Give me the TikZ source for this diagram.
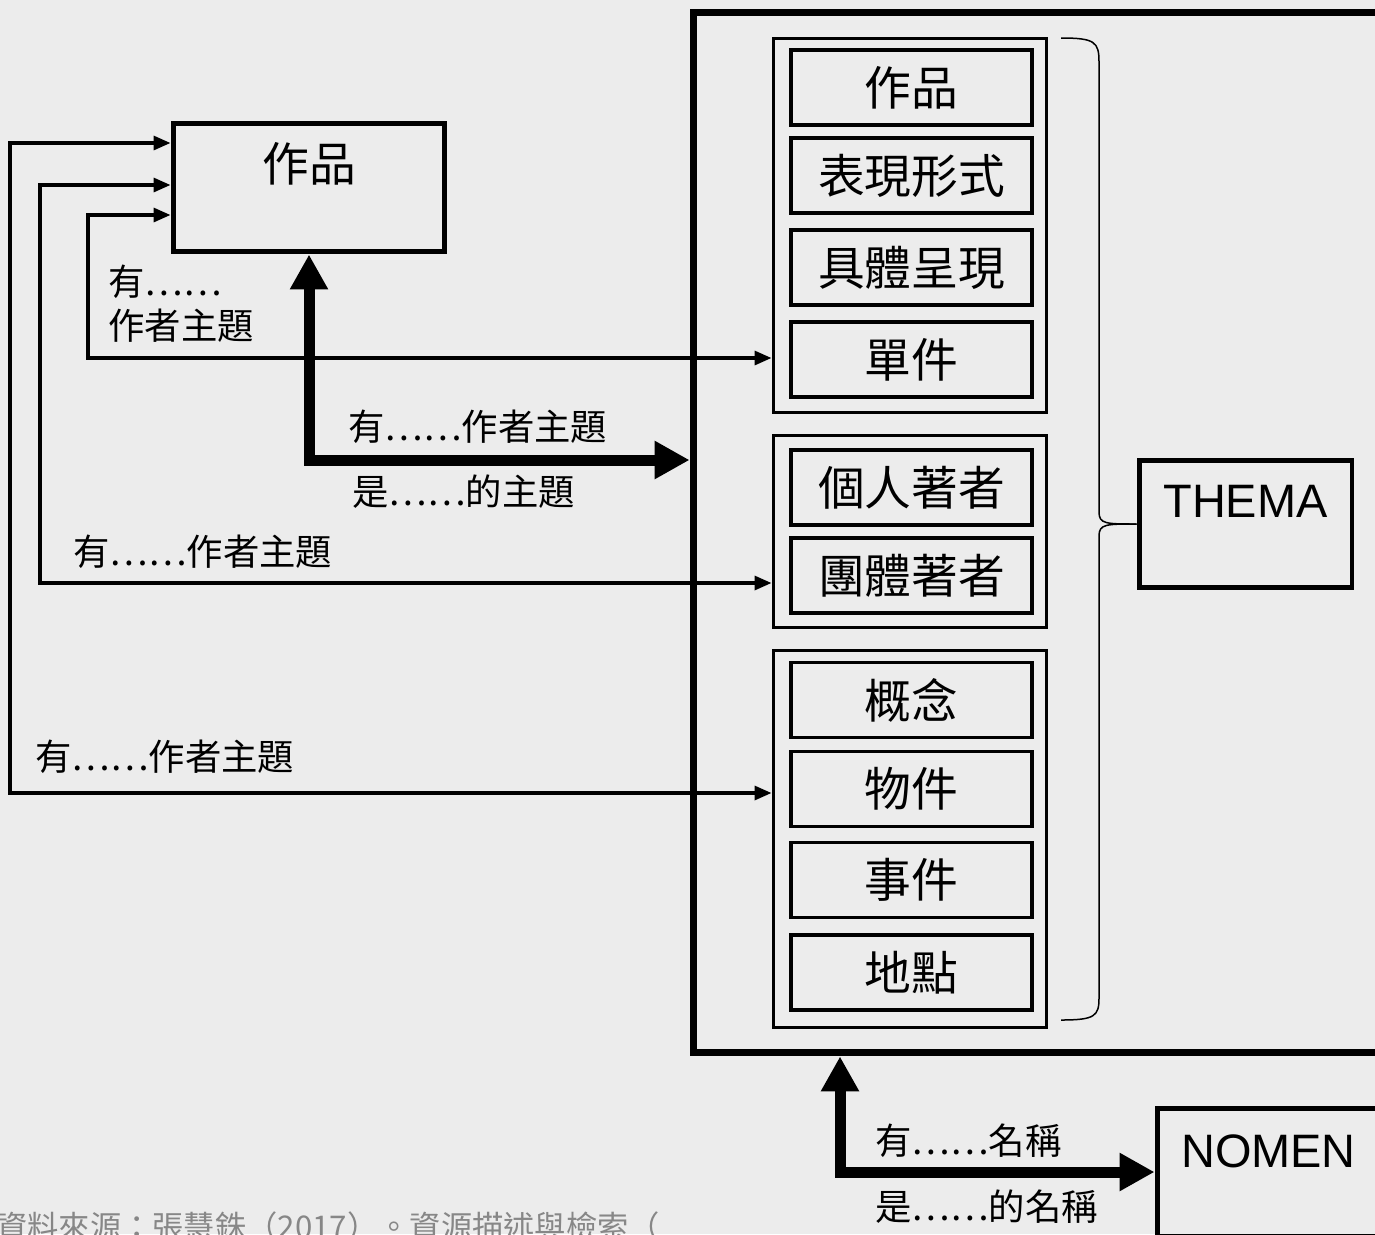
\documentclass[tikz,border=0pt]{standalone}
\usepackage{fontspec}
\setmainfont{Noto Sans CJK TC}
\setsansfont{Liberation Sans}
\usetikzlibrary{arrows.meta}
\definecolor{bggray}{RGB}{236,236,236}
\definecolor{capgray}{RGB}{135,135,135}

\begin{document}
\begin{tikzpicture}[
  x=0.02cm, y=-0.02cm,
  boxfont/.style={font=\fontsize{26.6pt}{30pt}\selectfont},
  entbox/.style={draw,boxfont,line width=0.065cm,minimum width=4.82cm,
    minimum height=1.5cm,inner sep=0pt},
  groupbox/.style={draw,line width=0.06cm,minimum width=5.48cm,inner sep=0pt},
  heavybox/.style={draw,line width=0.1cm,inner sep=0pt},
  rel/.style={inner sep=0pt,font=\fontsize{20.7pt}{25pt}\selectfont},
  thinarr/.style={line width=0.065cm,
    {Triangle[length=0.34cm,width=0.28cm]}-{Triangle[length=0.34cm,width=0.28cm]}},
  heavyarr/.style={line width=0.22cm,
    {Triangle[length=0.7cm,width=0.72cm]}-{Triangle[length=0.7cm,width=0.72cm]}}
]
  \path[fill=bggray,use as bounding box] (0,0) rectangle (1375,1234);

  % the THEMA block: three groups of entities inside one frame
  \node[draw,line width=0.14cm,minimum width=13.74cm,minimum height=20.82cm]
    (big) at (1036.5,532.5) {};
  \node[groupbox,minimum height=7.5cm] (g1) at (910,225.5) {};
  \node[groupbox,minimum height=3.86cm] (g2) at (910,531.5) {};
  \node[groupbox,minimum height=7.56cm] (g3) at (910,839) {};
  \foreach \yy/\nm/\txt in {87.5/fwork/作品, 175.5/fexpr/表現形式,
      267.5/fmani/具體呈現, 359.5/fitem/單件, 487.5/fpers/個人著者,
      575.5/fcorp/團體著者, 700/fconc/概念, 789/fobj/物件,
      880/fevent/事件, 972.5/fplace/地點}
    \node[entbox] (\nm) at (911.5,\yy) {\txt};

  \node[heavybox,font=\sffamily\fontsize{26.7pt}{30pt}\selectfont,
    minimum width=4.26cm,text height=1.14cm,text depth=1.42cm]
    (thema) at (1245.5,524) {THEMA};
  \node[heavybox,font=\sffamily\fontsize{26.7pt}{30pt}\selectfont,
    minimum width=4.46cm,text height=1.18cm,text depth=1.38cm]
    (nomen) at (1268.5,1172) {NOMEN};
  \node[heavybox,boxfont,minimum width=5.44cm,text height=1.16cm,
    text depth=1.42cm] (wk) at (309,187.5) {作品};

  % brace from the groups to THEMA
  \draw[line width=0.03cm]
    (1061,38) .. controls (1095,38) and (1099,42) .. (1099,62)
    -- (1099,512) .. controls (1099,524) and (1106,524) .. (thema.west);
  \draw[line width=0.03cm]
    (thema.west) .. controls (1106,524) and (1099,524) .. (1099,536)
    -- (1099,998) .. controls (1099,1016) and (1095,1020) .. (1061,1020);

  % relations
  \draw[heavyarr] (wk.south) |- (big.west |- 0,460);
  \draw[heavyarr] (big.south -| 840,0) |- (nomen.west);
  \draw[thinarr] (wk.west |- 0,215) -| (88,358) -- (g1.west |- 0,358);
  \draw[thinarr] (wk.west |- 0,185) -| (40,583) -- (g2.west |- 0,583);
  \draw[thinarr] (wk.west |- 0,143) -| (10,793) -- (g3.west |- 0,793);

  \node[rel,anchor=north west,align=left] (lbl1) at (108,265) {有……\\作者主題};
  \node[rel,anchor=base west] (lbl2) at (73,565) {有……作者主題};
  \node[rel,anchor=base west] (lbl3) at (35,770) {有……作者主題};
  \node[rel,anchor=base west] (lbl4) at (348,440) {有……作者主題};
  \node[rel,anchor=base west] (lbl5) at (352,505) {是……的主題};
  \node[rel,anchor=base west] (lbl6) at (875,1154) {有……名稱};
  \node[rel,anchor=base west] (lbl7) at (875,1220) {是……的名稱};

  \node[inner sep=0pt,anchor=base west,text=capgray,
    font=\fontsize{17.8pt}{21pt}\selectfont] (src) at (-4,1238)
    {資料來源：張慧銖（2017）。資源描述與檢索（};
\end{tikzpicture}
\end{document}
